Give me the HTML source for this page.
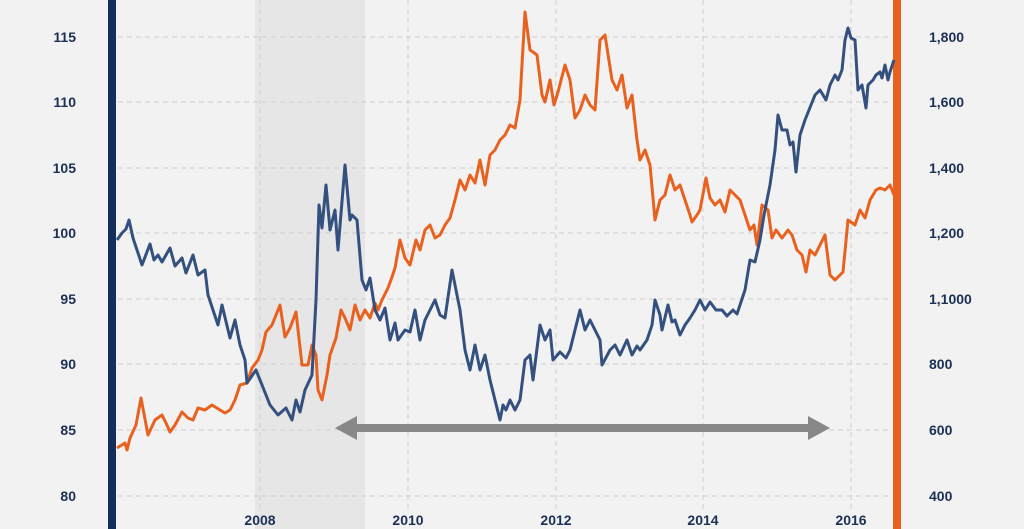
<!DOCTYPE html>
<html><head><meta charset="utf-8"><style>
html,body{margin:0;padding:0;background:#f2f2f2;}
svg{display:block;font-family:"Liberation Sans",sans-serif;font-weight:bold;}
</style></head><body>
<svg width="1024" height="529" viewBox="0 0 1024 529">
<rect width="1024" height="529" fill="#f2f2f2"/>
<rect x="255" y="0" width="110" height="529" fill="#e6e6e6"/>
<g stroke="#cfcfcf" stroke-width="1" stroke-dasharray="5,4">
<line x1="118" x2="890" y1="37" y2="37"/><line x1="118" x2="890" y1="102" y2="102"/>
<line x1="118" x2="890" y1="168" y2="168"/><line x1="118" x2="890" y1="233" y2="233"/>
<line x1="118" x2="890" y1="299" y2="299"/><line x1="118" x2="890" y1="364" y2="364"/>
<line x1="118" x2="890" y1="430" y2="430"/><line x1="118" x2="890" y1="496" y2="496"/>
<line x1="260" x2="260" y1="0" y2="510"/><line x1="408" x2="408" y1="0" y2="510"/>
<line x1="556" x2="556" y1="0" y2="510"/><line x1="703" x2="703" y1="0" y2="510"/>
<line x1="851" x2="851" y1="0" y2="510"/>
</g>
<rect x="108" y="0" width="8" height="529" fill="#14305a"/>
<rect x="893" y="0" width="8" height="529" fill="#e8611f"/>
<g fill="#1c2f55" font-size="14">
<g text-anchor="end">
<text x="76" y="42">115</text><text x="76" y="107">110</text><text x="76" y="173">105</text>
<text x="76" y="238">100</text><text x="76" y="304">95</text><text x="76" y="369">90</text>
<text x="76" y="435">85</text><text x="76" y="501">80</text></g>
<g text-anchor="start">
<text x="929" y="42">1,800</text><text x="929" y="107">1,600</text><text x="929" y="173">1,400</text>
<text x="929" y="238">1,200</text><text x="929" y="304">1,1000</text><text x="929" y="369">800</text>
<text x="929" y="435">600</text><text x="929" y="501">400</text></g>
<g text-anchor="middle">
<text x="260" y="525">2008</text><text x="408" y="525">2010</text><text x="556" y="525">2012</text>
<text x="703" y="525">2014</text><text x="851" y="525">2016</text></g>
</g>
<g fill="#888">
<rect x="350" y="424" width="465" height="8"/>
<polygon points="335,428 357,416 357,440"/>
<polygon points="830,428 808,416 808,440"/>
</g>
<polyline fill="none" stroke="#e8611f" stroke-width="3" stroke-linejoin="round" points="117,448 125,443 127,450 130,438 136,425 141,398 148,435 155,420 162,415 166,423 170,432 175,425 182,412 188,418 193,420 198,408 205,410 212,405 220,410 225,413 230,410 235,400 240,385 247,383 252,368 258,360 262,350 266,332 272,325 280,305 285,337 290,328 296,312 302,365 308,365 312,345 316,355 318,390 322,400 327,375 330,355 336,338 341,310 345,318 350,330 355,305 360,320 365,310 370,318 375,303 378,310 382,300 388,288 392,277 395,268 400,240 405,258 410,265 416,240 420,250 425,230 430,225 435,238 440,235 445,225 450,218 455,200 460,180 465,190 470,175 475,183 480,160 485,185 490,155 495,150 500,140 505,135 510,125 515,128 520,100 525,12 530,50 533,52 537,55 542,95 545,102 550,80 554,105 558,92 565,65 570,80 575,118 580,110 585,95 590,105 595,110 600,40 605,35 612,80 617,90 622,75 627,108 632,95 637,140 640,160 645,150 650,165 655,220 660,200 665,195 670,175 675,190 680,185 685,200 690,215 692,222 697,215 700,210 706,178 710,198 715,205 720,200 725,212 730,190 735,195 740,200 745,215 750,230 754,225 757,245 762,205 768,210 772,238 776,230 782,238 788,230 792,235 797,250 802,255 806,272 810,250 815,255 820,245 825,235 830,275 835,280 838,277 843,272 848,220 855,225 860,210 865,218 870,200 876,190 880,188 885,190 890,185 894,195"/>
<polyline fill="none" stroke="#34507f" stroke-width="3" stroke-linejoin="round" points="117,240 122,233 126,229 129,220 133,238 142,265 150,244 154,260 158,255 162,262 170,248 175,266 182,258 186,273 193,255 198,275 205,270 208,295 218,325 222,305 230,338 235,320 240,345 245,360 247,383 256,370 262,385 270,405 278,415 286,408 292,420 296,400 300,412 305,390 312,375 316,300 319,205 322,228 326,185 330,230 335,210 338,250 345,165 350,220 352,215 357,220 362,280 366,290 370,278 375,310 380,320 385,308 390,340 395,323 398,340 405,330 410,332 415,310 420,340 425,320 430,310 435,300 440,315 445,318 452,270 456,290 460,310 465,350 470,370 475,345 480,370 485,355 490,380 495,400 500,420 503,405 506,410 510,400 515,410 520,400 525,360 530,355 533,380 540,325 545,340 550,330 553,360 560,352 566,358 570,350 575,330 580,310 585,330 590,320 595,330 600,340 602,365 610,350 615,345 620,355 627,340 632,355 637,346 640,350 647,340 652,325 655,300 660,315 662,330 668,305 672,322 675,320 680,335 685,325 690,318 695,310 700,300 705,310 710,302 716,310 722,310 727,316 733,310 737,314 745,290 750,260 755,262 760,240 764,215 770,185 775,150 778,115 782,130 787,130 790,145 793,142 796,172 800,135 805,120 815,95 820,90 826,100 830,85 835,75 838,80 842,70 845,40 848,28 851,38 855,40 858,90 862,85 866,108 868,85 873,80 876,75 880,72 882,78 885,65 888,80 890,72 894,60"/>
</svg>
</body></html>
